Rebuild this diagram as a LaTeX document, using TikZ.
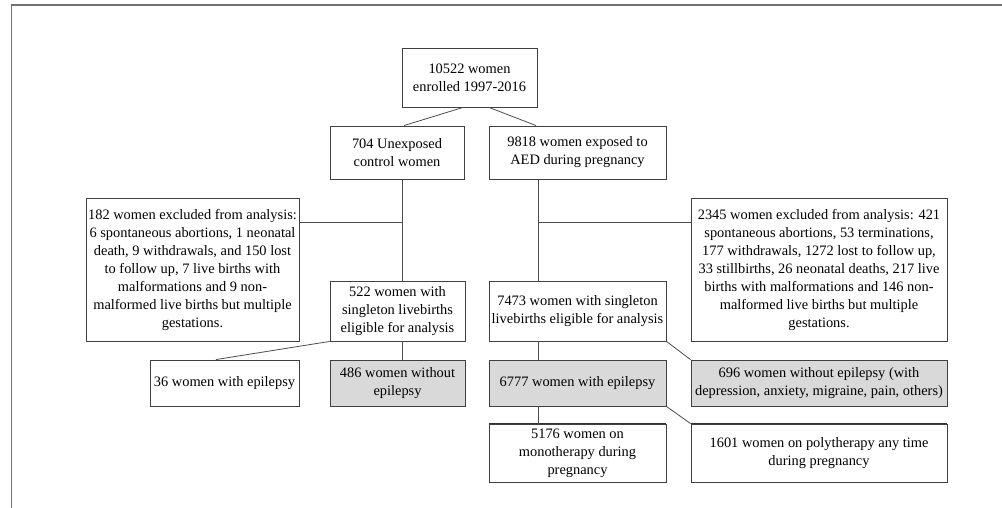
\documentclass[tikz,border=0pt]{standalone}
\usepackage{fontspec}
\setmainfont{Liberation Serif}
\begin{document}
\begin{tikzpicture}[x=1pt, y=-1pt,
        box/.style={draw=black!75, line width=0.9pt, align=center, inner sep=0pt,
            font=\fontsize{14.4}{18}\selectfont},
        greybox/.style={box, fill=black!15},
        link/.style={draw=black!70, line width=0.8pt}]
        \useasboundingbox (0,0) rectangle (1002,508);
        \draw[black!55, line width=1.2pt] (11.7,508) -- (11.7,5) -- (1002,5);

        \node[box, minimum width=135pt, minimum height=59pt] (enrol) at (469.5,77.5) {10522 women\\enrolled 1997-2016};
        \node[box, minimum width=134pt, minimum height=53pt] (unexp) at (397,152.5) {704 Unexposed\\control women};
        \node[box, minimum width=177pt, minimum height=53pt] (exp) at (577.5,152.5) {9818 women exposed to\\AED during pregnancy};

        \node[box, minimum width=213pt, minimum height=143pt] (exclL) at (192.5,269.5) {182 women excluded from analysis:\\6 spontaneous abortions, 1 neonatal\\death, 9 withdrawals, and 150 lost\\to follow up, 7 live births with\\malformations and 9 non-\\malformed live births but multiple\\gestations.};
        \node[box, minimum width=256pt, minimum height=143pt] (exclR) at (819,269.5) {2345 women excluded from analysis: 421\\spontaneous abortions, 53 terminations,\\177 withdrawals, 1272 lost to follow up,\\33 stillbirths, 26 neonatal deaths, 217 live\\births with malformations and 146 non-\\malformed live births but multiple\\gestations.};

        \node[box, minimum width=135pt, minimum height=60pt] (singL) at (397.5,311) {522 women with\\singleton livebirths\\eligible for analysis};
        \node[box, minimum width=177pt, minimum height=60pt] (singR) at (577.5,311) {7473 women with singleton\\livebirths eligible for analysis};

        \node[box, minimum width=149pt, minimum height=46pt] (epiL) at (224.5,383) {36 women with epilepsy};
        \node[greybox, minimum width=135pt, minimum height=46pt] (noepiL) at (397.5,383) {486 women without\\epilepsy};
        \node[greybox, minimum width=177pt, minimum height=46pt] (epiR) at (577.5,383) {6777 women with epilepsy};
        \node[greybox, minimum width=256pt, minimum height=46pt] (noepiR) at (819,383) {696 women without epilepsy (with\\depression, anxiety, migraine, pain, others)};

        \node[box, minimum width=177pt, minimum height=58pt] (mono) at (577.5,453) {5176 women on\\monotherapy during\\pregnancy};
        \node[box, minimum width=256pt, minimum height=58pt] (poly) at (819,453) {1601 women on polytherapy any time\\during pregnancy};
        \draw[black!80, line width=1.8pt] (mono.north west) -- (mono.north east);
        \draw[black!80, line width=1.8pt] (poly.north west) -- (poly.north east);

        \coordinate (hl) at (402,222);
        \coordinate (hr) at (538,222);

        \draw[link] ([xshift=-6.5pt]enrol.south) -- ([xshift=7pt]unexp.north);
        \draw[link] ([xshift=19.5pt]enrol.south) -- ([xshift=-41.5pt]exp.north);
        \draw[link] (unexp.south -| hl) -- (singL.north -| hl);
        \draw[link] (exp.south -| hr) -- (singR.north -| hr);
        \draw[link] (exclL.east |- hl) -- (hl);
        \draw[link] (hr) -- (exclR.west |- hr);
        \draw[link] (singL.south west) -- ([xshift=-8.5pt]epiL.north);
        \draw[link] (singL.south -| hl) -- (noepiL.north -| hl);
        \draw[link] (singR.south -| hr) -- (epiR.north -| hr);
        \draw[link] (singR.south east) -- (noepiR.north west);
        \draw[link] (epiR.south -| hr) -- (mono.north -| hr);
        \draw[link] (epiR.south east) -- (poly.north west);
    \end{tikzpicture}
\end{document}
